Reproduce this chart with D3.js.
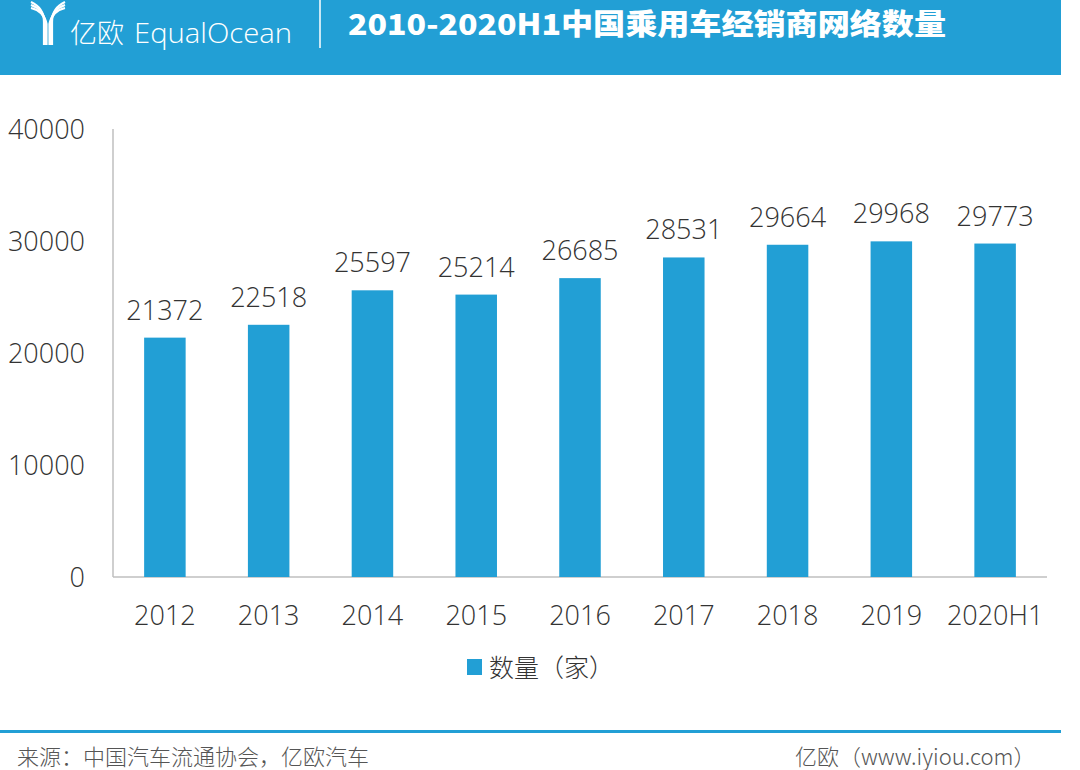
<!DOCTYPE html>
<html><head><meta charset="utf-8">
<script src="https://cdn.jsdelivr.net/npm/d3@7"></script>
<style>
html,body{margin:0;padding:0;background:#fff;}
svg{display:block;}
</style></head>
<body>
<svg id="c" width="1080" height="770"></svg>
<script>
const categories = ["2012","2013","2014","2015","2016","2017","2018","2019","2020H1"];
const values = [21372,22518,25597,25214,26685,28531,29664,29968,29773];
const yTicks = [0,10000,20000,30000,40000];
const seriesName = "数量（家）";
const title = "2010-2020H1中国乘用车经销商网络数量";
const sourceText = "来源：中国汽车流通协会，亿欧汽车";
const siteText = "亿欧（www.iyiou.com）";

const svg = d3.select("#c");
const blue = "#229fd5";
const font = "'Open Sans','Noto Sans CJK SC',sans-serif";
const cjk = "'Noto Sans CJK SC',sans-serif";

// header
svg.append("rect").attr("x",0).attr("y",0).attr("width",1061).attr("height",75).attr("fill",blue);
// logo icon
const logo = svg.append("g").attr("stroke","#fff").attr("fill","none").attr("stroke-width",2.2);
[0,5,10].forEach(d=>{
  logo.append("path").attr("d",`M${31},${2+d*0.6} Q${44},${8+d*0.3} ${44+d*0.25},${22+d*0.2} L${44+d*0.25},45`);
  logo.append("path").attr("d",`M${65},${2+d*0.6} Q${52},${8+d*0.3} ${52-d*0.25},${22+d*0.2} L${52-d*0.25},45`);
});
svg.append("text").attr("x",70).attr("y",43).attr("fill","#fff").attr("font-family",cjk)
  .attr("font-weight",300).attr("font-size",27).text("亿欧");
svg.append("text").attr("x",134).attr("y",43).attr("fill","#fff").attr("font-family","'Open Sans',sans-serif")
  .attr("font-weight",300).attr("font-size",28).attr("textLength",158).attr("lengthAdjust","spacingAndGlyphs").text("EqualOcean");
svg.append("line").attr("x1",320).attr("x2",320).attr("y1",0).attr("y2",48).attr("stroke","#fff").attr("stroke-width",1.5);
svg.append("text").attr("x",348).attr("y",35).attr("fill","#fff").attr("font-family",cjk)
  .attr("font-weight",900).attr("font-size",29).attr("textLength",598).attr("lengthAdjust","spacingAndGlyphs").text(title);

// chart
const x0=113, x1=1047, yTop=129, yBot=577;
const x = d3.scaleBand().domain(categories).range([x0,x1]).paddingInner(0.6).paddingOuter(0.3);
const y = d3.scaleLinear().domain([0,40000]).range([yBot,yTop]);

svg.append("line").attr("x1",x0).attr("x2",x0).attr("y1",yTop).attr("y2",yBot).attr("stroke","#bfbfbf").attr("stroke-width",1.5);
svg.append("line").attr("x1",x0).attr("x2",x1).attr("y1",yBot).attr("y2",yBot).attr("stroke","#bfbfbf").attr("stroke-width",1.5);

const yAxis = d3.axisLeft(y).tickValues(yTicks).tickSize(0).tickPadding(28).tickFormat(d3.format("d"));
const gy = svg.append("g").attr("transform",`translate(${x0},0)`).call(yAxis);
gy.select(".domain").remove();
gy.selectAll("text").attr("font-family",font).attr("font-weight",300).attr("font-size",27).attr("fill","#333").attr("dy","0.35em");

const xAxis = d3.axisBottom(x).tickSize(0).tickPadding(29);
const gx = svg.append("g").attr("transform",`translate(0,${yBot})`).call(xAxis);
gx.select(".domain").remove();
gx.selectAll("text").attr("font-family",font).attr("font-weight",300).attr("font-size",27).attr("fill","#333");

svg.append("g").selectAll("rect").data(values).join("rect")
  .attr("x",(d,i)=>x(categories[i])).attr("width",x.bandwidth())
  .attr("y",d=>y(d)).attr("height",d=>yBot-y(d)).attr("fill",blue);

svg.append("g").selectAll("text").data(values).join("text")
  .attr("x",(d,i)=>x(categories[i])+x.bandwidth()/2).attr("y",d=>y(d)-18)
  .attr("text-anchor","middle").attr("font-family",font).attr("font-weight",300)
  .attr("font-size",27).attr("fill","#333").text(d=>d);

// legend
svg.append("rect").attr("x",467).attr("y",659).attr("width",15).attr("height",16).attr("fill",blue);
svg.append("text").attr("x",489).attr("y",677).attr("font-family",cjk).attr("font-weight",300)
  .attr("font-size",25).attr("fill","#333").text(seriesName);

// footer
svg.append("rect").attr("x",0).attr("y",730).attr("width",1061).attr("height",3).attr("fill",blue);
svg.append("text").attr("x",17).attr("y",765).attr("font-family",cjk).attr("font-weight",300)
  .attr("font-size",22).attr("fill","#555").text(sourceText);
svg.append("text").attr("x",795).attr("y",765).attr("font-family",cjk).attr("font-weight",300)
  .attr("font-size",22).attr("fill","#555").text(siteText);
</script>
</body></html>
